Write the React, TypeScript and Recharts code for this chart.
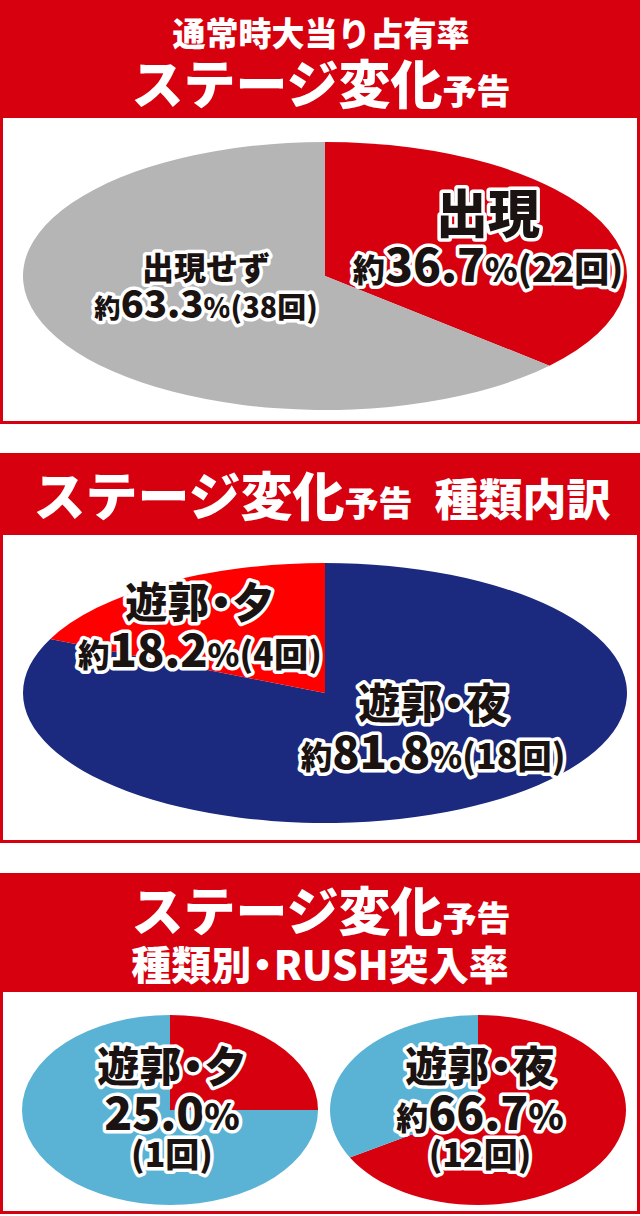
import React from 'react';
import { PieChart, Pie, Cell } from 'recharts';

// 通常時大当り占有率
const appearNames = ['出現', '出現せず'];
const appearCounts = [22, 38];
const appearColors = ['#d7000f', '#b5b5b6'];

// 種類内訳
const typeNames = ['遊郭・夜', '遊郭・夕'];
const typeCounts = [18, 4];
const typeColors = ['#1b2a7f', '#fe0000'];

// 種類別・RUSH突入率
const rushNames = ['遊郭・夕', '遊郭・夜'];
const rushHits = [1, 12];
const rushMisses = [3, 6];
const rushColors = ['#d7000f', '#5ab3d5'];

const RED = '#d7000f';
const FONT = '"Noto Sans CJK JP", "Noto Sans", sans-serif';
const RAD = Math.PI / 180;

const outline: React.CSSProperties = {
	fill: '#1a1311',
	stroke: '#fff',
	strokeWidth: 7,
	strokeLinejoin: 'round',
	paintOrder: 'stroke',
	fontFamily: FONT,
	fontWeight: 900,
};

// draws a pie sector squashed vertically into an ellipse
const ellipseSector = (k: number) => (props: any) => {
	const { cx, cy, outerRadius, startAngle, endAngle, fill } = props;
	const rx = outerRadius;
	const ry = outerRadius * k;
	const pt = (a: number) => [cx + rx * Math.cos(-a * RAD), cy + ry * Math.sin(-a * RAD)];
	const [x1, y1] = pt(startAngle);
	const [x2, y2] = pt(endAngle);
	const large = Math.abs(endAngle - startAngle) > 180 ? 1 : 0;
	const sweep = endAngle < startAngle ? 1 : 0;
	return <path d={`M${cx},${cy}L${x1},${y1}A${rx},${ry} 0 ${large} ${sweep} ${x2},${y2}Z`} fill={fill} stroke='none' />;
};

const pct = (v: number, total: number) => {
	const p = (v / total) * 100;
	return { txt: p.toFixed(1), approx: !Number.isInteger((v * 1000) / total) };
};

const toRows = (names: string[], values: number[]) => names.map((name, i) => ({ name, value: values[i] }));

// the full-width 中黒 is too loose, pull its neighbours in
const tight = (s: string, size: number) => {
	const parts = s.split('・');
	if (parts.length < 2) return s;
	const pull = -size * 0.22;
	return [
		<tspan key='a'>{parts[0]}</tspan>,
		<tspan key='b' dx={pull}>
			・
		</tspan>,
		<tspan key='c' dx={pull}>
			{parts[1]}
		</tspan>,
	];
};

interface Spot {
	dx: number;
	dy: number;
	name: number;
	num: number;
	gap: number;
}

// name on one line, 約xx.x%(n回) below
const twoLineLabel = (total: number, spots: Spot[]) => (props: any) => {
	const { cx, cy, index, name, value } = props;
	const s = spots[index];
	const p = pct(value, total);
	const x = cx + s.dx;
	const y = cy + s.dy;
	return (
		<g key={`lb-${index}`}>
			<text x={x} y={y} textAnchor='middle' fontSize={s.name} style={outline}>
				{tight(name, s.name)}
			</text>
			<text x={x} y={y + s.gap} textAnchor='middle' style={outline}>
				{p.approx && <tspan fontSize={s.num * 0.7}>約</tspan>}
				<tspan fontSize={s.num}>{p.txt}</tspan>
				<tspan fontSize={s.num * 0.72}>%</tspan>
				<tspan fontSize={s.num * 0.76}>({value}回)</tspan>
			</text>
		</g>
	);
};

// three lines, only on the RUSH slice
const rushLabel = (title: string, total: number) => (props: any) => {
	const { cx, cy, index, value } = props;
	if (index !== 0) return null;
	const p = pct(value, total);
	const x = cx + 2;
	return (
		<g key='rush'>
			<text x={x} y={cy - 28} textAnchor='middle' fontSize={42} style={outline}>
				{tight(title, 42)}
			</text>
			<text x={x} y={cy + 20} textAnchor='middle' style={outline}>
				{p.approx && <tspan fontSize={32}>約</tspan>}
				<tspan fontSize={46}>{p.txt}</tspan>
				<tspan fontSize={36}>%</tspan>
			</text>
			<text x={x} y={cy + 57} textAnchor='middle' fontSize={34} style={outline}>
				({value}回)
			</text>
		</g>
	);
};

const Header = ({ height, children }: { height: number; children: React.ReactNode }) => (
	<div style={{ height, background: RED }}>
		<svg width={640} height={height} style={{ display: 'block', overflow: 'visible' }}>
			<g fill='#fff' fontFamily={FONT} fontWeight={900} textAnchor='middle'>
				{children}
			</g>
		</svg>
	</div>
);

const Box = ({ height, children }: { height: number; children: React.ReactNode }) => (
	<div style={{ height, borderLeft: `3px solid ${RED}`, borderRight: `3px solid ${RED}`, borderBottom: `3px solid ${RED}`, background: '#fff' }}>
		{children}
	</div>
);

const StageTitle = ({ y, x = 321, tail }: { y: number; x?: number; tail?: React.ReactNode }) => (
	<text x={x} y={y}>
		<tspan fontSize={52}>ステージ変化</tspan>
		<tspan fontSize={34}>予告</tspan>
		{tail}
	</text>
);

export default function App() {
	const appearRows = toRows(appearNames, appearCounts);
	const typeRows = toRows(typeNames, typeCounts);
	const appearTotal = appearCounts.reduce((a, b) => a + b, 0);
	const typeTotal = typeCounts.reduce((a, b) => a + b, 0);

	return (
		<div style={{ width: 640, height: 1216, background: '#fff', fontFamily: FONT }}>
			<style>{'body{margin:0}'}</style>

			<Header height={118}>
				<text x={321} y={46} fontSize={33}>
					通常時大当り占有率
				</text>
				<StageTitle y={104} />
			</Header>
			<Box height={303}>
				<PieChart width={634} height={303}>
					<Pie
						data={appearRows}
						dataKey='value'
						nameKey='name'
						cx={317}
						cy={153}
						outerRadius={302}
						startAngle={90}
						endAngle={-270}
						stroke='none'
						isAnimationActive={false}
						shape={ellipseSector(134 / 302)}
						activeShape={ellipseSector(134 / 302)}
						inactiveShape={ellipseSector(134 / 302)}
						labelLine={false}
						label={twoLineLabel(appearTotal, [
							{ dx: 163, dy: -43, name: 52, num: 46, gap: 49 },
							{ dx: -119, dy: 4, name: 32, num: 38, gap: 38 },
						])}
					>
						{appearRows.map((r, i) => (
							<Cell key={r.name} fill={appearColors[i]} />
						))}
					</Pie>
				</PieChart>
			</Box>

			<div style={{ height: 29 }} />

			<Header height={82}>
				<StageTitle
					y={63}
					x={322}
					tail={
						<tspan fontSize={44} dx={22}>
							種類内訳
						</tspan>
					}
				/>
			</Header>
			<Box height={305}>
				<PieChart width={634} height={305}>
					<Pie
						data={typeRows}
						dataKey='value'
						nameKey='name'
						cx={317}
						cy={153}
						outerRadius={302}
						startAngle={90}
						endAngle={-270}
						stroke='none'
						isAnimationActive={false}
						shape={ellipseSector(130 / 302)}
						activeShape={ellipseSector(130 / 302)}
						inactiveShape={ellipseSector(130 / 302)}
						labelLine={false}
						label={twoLineLabel(typeTotal, [
							{ dx: 108, dy: 26, name: 42, num: 45, gap: 50 },
							{ dx: -125, dy: -75, name: 42, num: 45, gap: 49 },
						])}
					>
						{typeRows.map((r, i) => (
							<Cell key={r.name} fill={typeColors[i]} />
						))}
					</Pie>
				</PieChart>
			</Box>

			<div style={{ height: 30 }} />

			<Header height={119}>
				<StageTitle y={58} />
				<text x={320} y={107} fontSize={40}>
					{tight('種類別・RUSH突入率', 40)}
				</text>
			</Header>
			<Box height={219}>
				<PieChart width={634} height={219}>
					{rushNames.map((title, j) => {
						const rows = [
							{ name: 'RUSH', value: rushHits[j] },
							{ name: 'other', value: rushMisses[j] },
						];
						return (
							<Pie
								key={title}
								data={rows}
								dataKey='value'
								nameKey='name'
								cx={j === 0 ? 162 : 470}
								cy={113}
								outerRadius={148}
								startAngle={90}
								endAngle={-270}
								stroke='none'
								isAnimationActive={false}
								shape={ellipseSector(95 / 148)}
								activeShape={ellipseSector(95 / 148)}
								inactiveShape={ellipseSector(95 / 148)}
								labelLine={false}
								label={rushLabel(title, rushHits[j] + rushMisses[j])}
							>
								{rows.map((r, i) => (
									<Cell key={r.name} fill={rushColors[i]} />
								))}
							</Pie>
						);
					})}
				</PieChart>
			</Box>
		</div>
	);
}
